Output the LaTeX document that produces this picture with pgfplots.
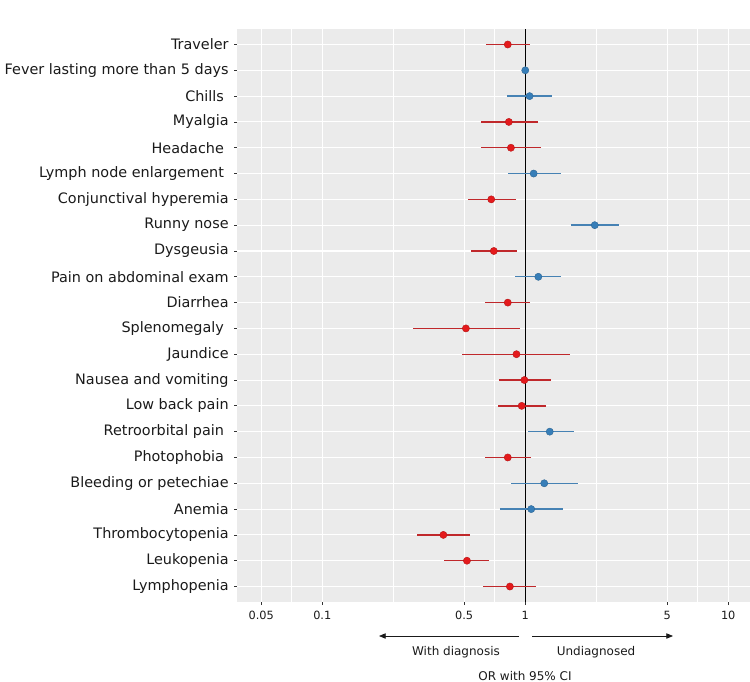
\documentclass[border=0pt]{standalone}
\usepackage{fontspec}
\setmainfont{DejaVu Sans}
\usepackage{pgfplots}
\pgfplotsset{compat=1.18}
\usepackage{pgfplotstable}
\usetikzlibrary{arrows.meta}
\definecolor{ggbg}{HTML}{EBEBEB}
\definecolor{ggtxt}{HTML}{1A1A1A}
\definecolor{ggtick}{HTML}{333333}
\definecolor{ptred}{HTML}{E41A1C}
\definecolor{linered}{HTML}{C0282B}
\definecolor{ptblue}{HTML}{377EB8}
\definecolor{lineblue}{HTML}{4682B4}
\newcommand{\trsp}{\kern3.5pt}

% row  or  lo  hi   (row 1 = Traveler, top)
\pgfplotstableread{
row or    lo    hi
1   0.82  0.64  1.06
4   0.83  0.605 1.15
5   0.85  0.605 1.20
7   0.68  0.52  0.90
9   0.70  0.54  0.91
11  0.82  0.63  1.06
12  0.51  0.28  0.94
13  0.905 0.49  1.67
14  0.99  0.74  1.34
15  0.96  0.73  1.27
17  0.82  0.63  1.07
20  0.395 0.294 0.532
21  0.516 0.397 0.66
22  0.84  0.62  1.13
}\reddata
\pgfplotstableread{
row or    lo    hi
2   1.00  0.985 1.015
3   1.05  0.81  1.35
6   1.10  0.82  1.50
8   2.20  1.68  2.91
10  1.16  0.89  1.50
16  1.32  1.03  1.73
18  1.24  0.855 1.81
19  1.07  0.75  1.53
}\bluedata

\begin{document}
\begin{tikzpicture}
\useasboundingbox (0,0) rectangle (562.5pt,-511.5pt);
\begin{axis}[
  at={(177.75pt,-451.5pt)}, anchor=south west,
  scale only axis, width=384.75pt, height=429.75pt,
  xmode=log, xmin=0.038, xmax=12.8,
  ymin=0.4, ymax=22.6, y dir=reverse,
  axis background/.style={fill=ggbg},
  axis line style={draw=none},
  xtick={0.05,0.1,0.5,1,5,10},
  xticklabels={0.05,0.1,0.5,1,5,10},
  minor xtick={0.0707,0.2236,0.7071,2.236,7.071},
  ytick={1,...,22},
  yticklabels={Traveler,Fever lasting more than 5 days,Chills\trsp,Myalgia,Headache\trsp,Lymph node enlargement\trsp,Conjunctival hyperemia,Runny nose,Dysgeusia,Pain on abdominal exam,Diarrhea,Splenomegaly\trsp,Jaundice,Nausea and vomiting,Low back pain,Retroorbital pain\trsp,Photophobia\trsp,Bleeding or petechiae,Anemia,Thrombocytopenia,Leukopenia,Lymphopenia},
  xtick pos=bottom, ytick pos=left,
  tick align=outside, major tick length=2.25pt, minor tick length=0pt,
  tick style={color=ggtick, line width=0.6pt},
  xmajorgrids, xminorgrids, ymajorgrids,
  major grid style={white, line width=0.8pt},
  minor grid style={white, line width=0.45pt},
  yticklabel style={font=\fontsize{10.8}{13}\selectfont, color=ggtxt, xshift=-0.5pt},
  xticklabel style={font=\fontsize{8.5}{10}\selectfont, color=ggtxt, yshift=-1pt},
  /pgf/number format/assume math mode=true,
  clip=false,
]
\addplot[black, line width=0.8pt] coordinates {(1,0.4) (1,22.6)};
% confidence intervals
\addplot[draw=none, mark=none, forget plot,
  error bars/.cd, x dir=both, x explicit, error mark=none,
  error bar style={linered, line width=1.05pt}]
  table[x=or, y=row, x error plus expr=\thisrow{hi}-\thisrow{or}, x error minus expr=\thisrow{or}-\thisrow{lo}] {\reddata};
\addplot[draw=none, mark=none, forget plot,
  error bars/.cd, x dir=both, x explicit, error mark=none,
  error bar style={lineblue, line width=1.05pt}]
  table[x=or, y=row, x error plus expr=\thisrow{hi}-\thisrow{or}, x error minus expr=\thisrow{or}-\thisrow{lo}] {\bluedata};
% point estimates
\addplot[only marks, mark=*, mark size=2.7pt, mark options={fill=ptred, draw=ptred!80!black, line width=0.3pt}]
  table[x=or, y=row] {\reddata};
\addplot[only marks, mark=*, mark size=2.7pt, mark options={fill=ptblue, draw=ptblue!80!black, line width=0.3pt}]
  table[x=or, y=row] {\bluedata};
\end{axis}
\begin{scope}[x=0.75pt, y=-0.75pt]
  \draw[ggtxt, line width=0.6pt, -{Triangle[length=5pt, width=4pt]}] (519,636) -- (379,636);
  \draw[ggtxt, line width=0.6pt, -{Triangle[length=5pt, width=4pt]}] (532,636) -- (673,636);
  \node[font=\fontsize{9}{11}\selectfont, color=ggtxt] at (456,652) {With diagnosis};
  \node[font=\fontsize{9}{11}\selectfont, color=ggtxt] at (596,652) {Undiagnosed};
  \node[font=\fontsize{9}{11}\selectfont, color=ggtxt] at (525,676) {OR with 95\% CI};
\end{scope}
\end{tikzpicture}
\end{document}
